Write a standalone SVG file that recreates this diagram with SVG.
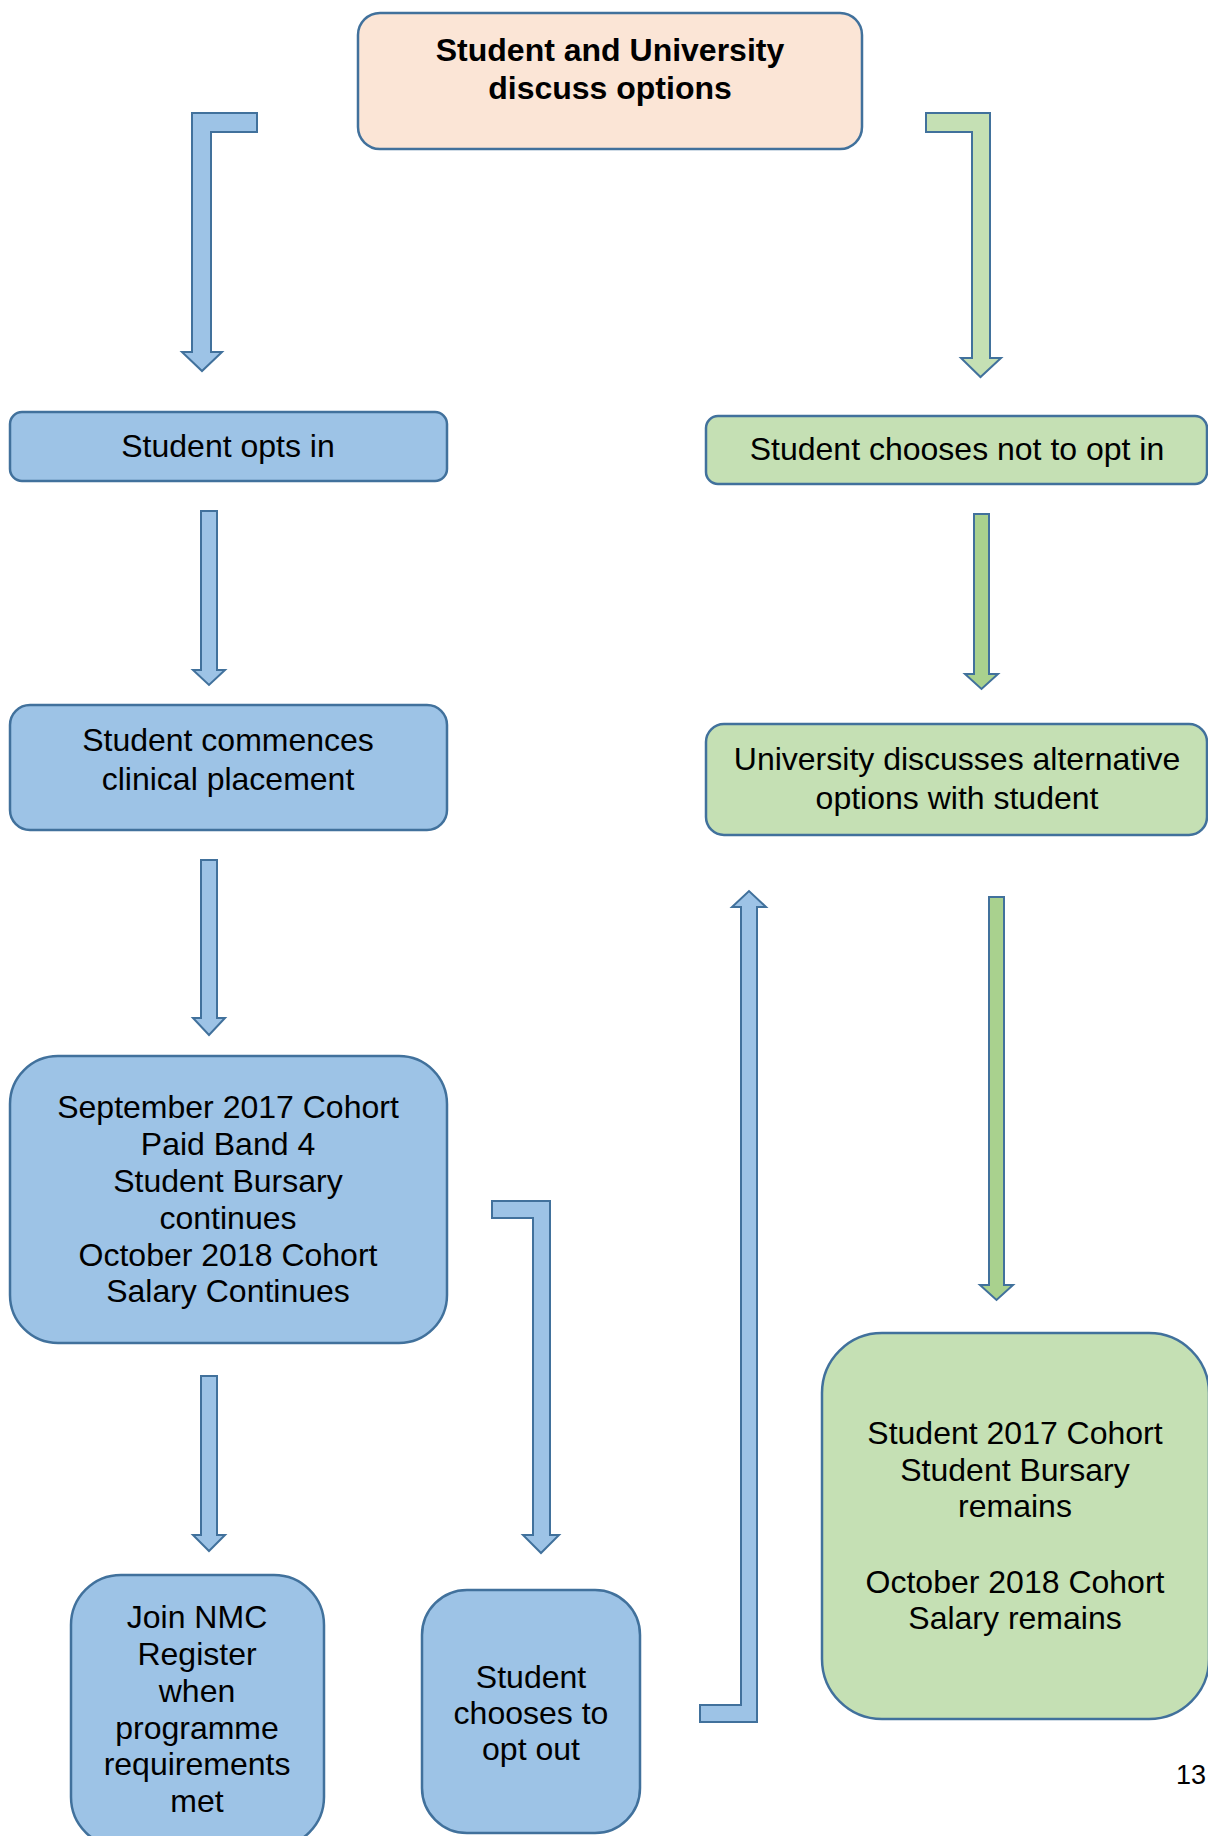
<svg xmlns="http://www.w3.org/2000/svg" width="1208" height="1836" viewBox="0 0 1208 1836">
<style>
.box{stroke:#41719C;stroke-width:2.5}
.blue{fill:#9DC3E6}
.green{fill:#C5E0B4}
.peach{fill:#FBE5D6}
.arr{stroke:#41719C;stroke-width:2;stroke-linejoin:miter}
.ablue{fill:#9DC3E6}
.agreen{fill:#A9D18E}
.agreenl{fill:#C5E0B4}
text{font-family:"Liberation Sans",Arial,sans-serif;font-size:32px;fill:#000;text-anchor:middle}
.b{font-weight:bold}
</style>
<rect width="1208" height="1836" fill="#fff"/>
<g id="connectors">
<polygon class="arr ablue" points="257,113 192,113 192,352 182,352 202,371 222,352 211,352 211,132 257,132"/>
<polygon class="arr agreenl" points="926,113 990,113 990,358 1001,358 980.5,377 961,358 972,358 972,132 926,132"/>
<polygon class="arr ablue" points="201,511 217,511 217,670 225,670 209,685 193,670 201,670"/>
<polygon class="arr ablue" points="201,860 217,860 217,1018 225,1018 209,1035 193,1018 201,1018"/>
<polygon class="arr ablue" points="201,1376 217,1376 217,1535 225,1535 209,1551 193,1535 201,1535"/>
<polygon class="arr agreen" points="974,514 989,514 989,674 998,674 981.5,689 965,674 974,674"/>
<polygon class="arr agreen" points="989,897 1004,897 1004,1285 1013,1285 996.5,1300 980,1285 989,1285"/>
<polygon class="arr ablue" points="492,1201 550,1201 550,1535 559,1535 541,1553 523,1535 533,1535 533,1218 492,1218"/>
<polygon class="arr ablue" points="700,1722 757,1722 757,907 766,907 749,891 732,907 741,907 741,1705 700,1705"/>
</g>
<g id="n-discuss">
<rect class="box peach" x="358" y="13" width="504" height="136" rx="22"/>
<text class="b" x="610" y="61">Student and University</text>
<text class="b" x="610" y="99">discuss options</text>
</g>
<g id="n-optin">
<rect class="box blue" x="10" y="412" width="437" height="69" rx="12"/>
<text x="228" y="457">Student opts in</text>
</g>
<g id="n-notoptin">
<rect class="box green" x="706" y="416" width="501" height="68" rx="12"/>
<text x="957" y="460">Student chooses not to opt in</text>
</g>
<g id="n-commence">
<rect class="box blue" x="10" y="705" width="437" height="125" rx="20"/>
<text x="228" y="751">Student commences</text>
<text x="228" y="790">clinical placement</text>
</g>
<g id="n-university">
<rect class="box green" x="706" y="724" width="501" height="111" rx="18"/>
<text x="957" y="770">University discusses alternative</text>
<text x="957" y="809">options with student</text>
</g>
<g id="n-september">
<rect class="box blue" x="10" y="1056" width="437" height="287" rx="48"/>
<text x="228" y="1118">September 2017 Cohort</text>
<text x="228" y="1155">Paid Band 4</text>
<text x="228" y="1192">Student Bursary</text>
<text x="228" y="1229">continues</text>
<text x="228" y="1266">October 2018 Cohort</text>
<text x="228" y="1302">Salary Continues</text>
</g>
<g id="n-remains">
<rect class="box green" x="822" y="1333" width="387" height="386" rx="60"/>
<text x="1015" y="1444">Student 2017 Cohort</text>
<text x="1015" y="1481">Student Bursary</text>
<text x="1015" y="1517">remains</text>
<text x="1015" y="1593">October 2018 Cohort</text>
<text x="1015" y="1629">Salary remains</text>
</g>
<g id="n-join">
<rect class="box blue" x="71" y="1575" width="253" height="272" rx="50"/>
<text x="197" y="1628">Join NMC</text>
<text x="197" y="1665">Register</text>
<text x="197" y="1702">when</text>
<text x="197" y="1739">programme</text>
<text x="197" y="1775">requirements</text>
<text x="197" y="1812">met</text>
</g>
<g id="n-optout">
<rect class="box blue" x="422" y="1590" width="218" height="243" rx="45"/>
<text x="531" y="1688">Student</text>
<text x="531" y="1724">chooses to</text>
<text x="531" y="1760">opt out</text>
</g>
<text x="1176" y="1784" style="text-anchor:start;font-size:27px">13</text>
</svg>
